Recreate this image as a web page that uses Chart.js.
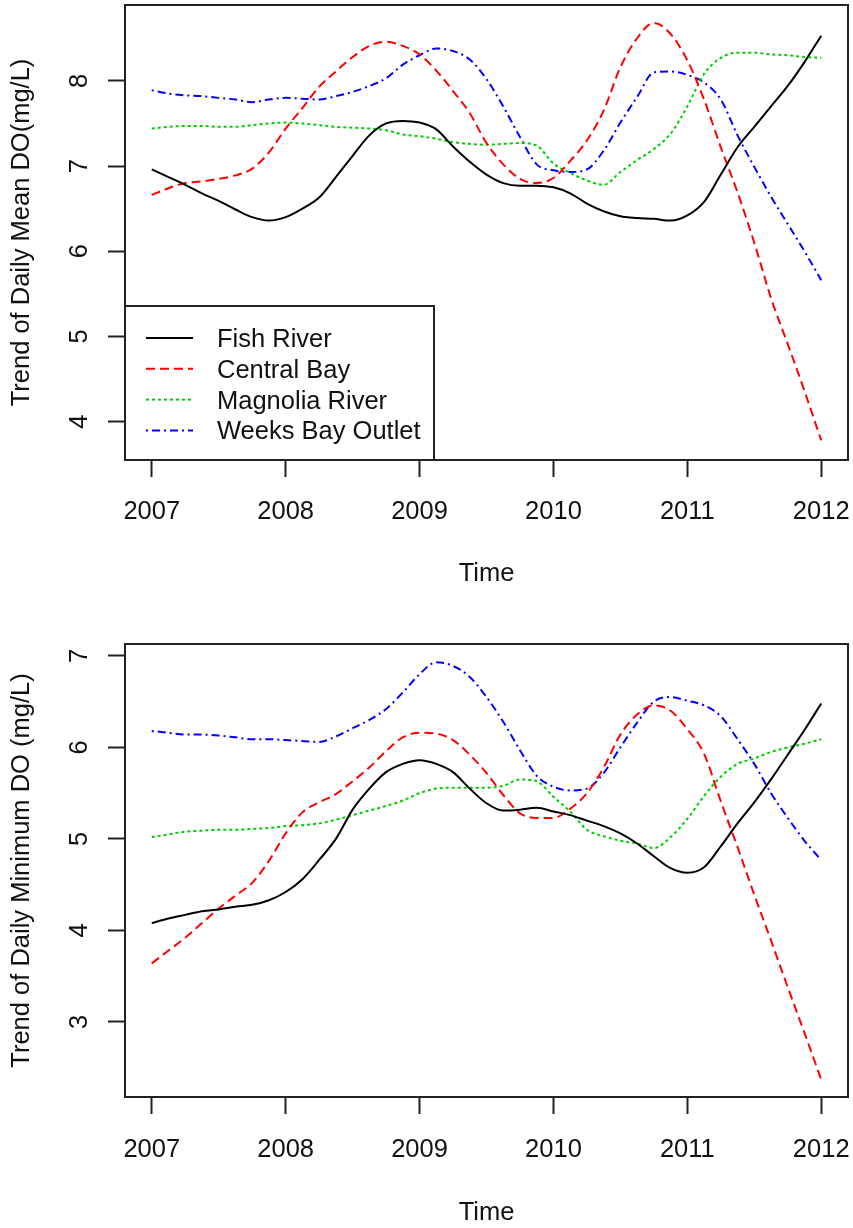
<!DOCTYPE html>
<html>
<head>
<meta charset="utf-8">
<script src="https://cdn.jsdelivr.net/npm/chart.js@4.4.1/dist/chart.umd.min.js"></script>
<style>
  body { margin: 0; background: #fff; }
  canvas { display: block; }
</style>
</head>
<body>
<canvas id="meanChart" width="853" height="614"></canvas>
<canvas id="minChart" width="853" height="614"></canvas>
<script>
// time in years, one point every 1.5 months
const times = [2007, 2007.125, 2007.25, 2007.375, 2007.5, 2007.625, 2007.75, 2007.875,
  2008, 2008.125, 2008.25, 2008.375, 2008.5, 2008.625, 2008.75, 2008.875,
  2009, 2009.125, 2009.25, 2009.375, 2009.5, 2009.625, 2009.75, 2009.875,
  2010, 2010.125, 2010.25, 2010.375, 2010.5, 2010.625, 2010.75, 2010.875,
  2011, 2011.125, 2011.25, 2011.375, 2011.5, 2011.625, 2011.75, 2011.875, 2012];

const xTicks = [2007, 2008, 2009, 2010, 2011, 2012];
const meanTicks = [4, 5, 6, 7, 8];
const minTicks = [3, 4, 5, 6, 7];

const siteNames = ["Fish River", "Central Bay", "Magnolia River", "Weeks Bay Outlet"];

// trend of daily mean DO (mg/L)
const meanFish = [6.96, 6.87, 6.78, 6.68, 6.59, 6.49, 6.40, 6.36, 6.40, 6.50, 6.63, 6.87, 7.12, 7.36, 7.50, 7.53,
  7.51, 7.43, 7.23, 7.05, 6.90, 6.80, 6.77, 6.77, 6.75, 6.68, 6.56, 6.47, 6.41, 6.39, 6.38, 6.36,
  6.42, 6.58, 6.90, 7.22, 7.46, 7.70, 7.94, 8.22, 8.53];
const meanCentral = [6.66, 6.74, 6.80, 6.82, 6.85, 6.89, 6.97, 7.16, 7.44, 7.68, 7.93, 8.11, 8.28, 8.41, 8.46, 8.41,
  8.31, 8.12, 7.88, 7.62, 7.27, 7.02, 6.85, 6.80, 6.86, 7.06, 7.30, 7.65, 8.16, 8.50, 8.68, 8.55,
  8.24, 7.78, 7.22, 6.69, 6.10, 5.45, 4.91, 4.36, 3.78];
const meanMagnolia = [7.44, 7.46, 7.47, 7.47, 7.46, 7.46, 7.48, 7.50, 7.51, 7.50, 7.48, 7.46, 7.45, 7.44, 7.42, 7.37,
  7.35, 7.32, 7.28, 7.26, 7.25, 7.26, 7.27, 7.24, 7.03, 6.92, 6.83, 6.78, 6.93, 7.07, 7.20, 7.38,
  7.70, 8.08, 8.27, 8.33, 8.33, 8.31, 8.30, 8.28, 8.27];
const meanWeeks = [7.89, 7.85, 7.83, 7.82, 7.80, 7.78, 7.75, 7.78, 7.80, 7.79, 7.78, 7.82, 7.87, 7.94, 8.03, 8.19,
  8.30, 8.38, 8.35, 8.25, 8.02, 7.70, 7.34, 7.02, 6.95, 6.93, 6.96, 7.18, 7.51, 7.81, 8.10, 8.11,
  8.07, 7.98, 7.78, 7.36, 6.99, 6.64, 6.32, 6.00, 5.66];

// trend of daily minimum DO (mg/L)
const minFish = [4.08, 4.13, 4.17, 4.21, 4.23, 4.26, 4.28, 4.33, 4.42, 4.56, 4.77, 5.00, 5.32, 5.55, 5.73, 5.82,
  5.86, 5.82, 5.73, 5.55, 5.39, 5.31, 5.32, 5.34, 5.30, 5.26, 5.20, 5.14, 5.06, 4.95, 4.81, 4.68,
  4.63, 4.69, 4.92, 5.17, 5.40, 5.65, 5.92, 6.19, 6.48];
const minCentral = [3.64, 3.78, 3.92, 4.08, 4.24, 4.38, 4.52, 4.76, 5.06, 5.29, 5.40, 5.49, 5.63, 5.78, 5.96, 6.11,
  6.16, 6.15, 6.08, 5.92, 5.72, 5.48, 5.28, 5.23, 5.23, 5.33, 5.50, 5.78, 6.14, 6.36, 6.46, 6.40,
  6.20, 5.93, 5.41, 4.91, 4.39, 3.89, 3.38, 2.88, 2.37];
const minMagnolia = [5.02, 5.05, 5.08, 5.09, 5.10, 5.10, 5.11, 5.12, 5.14, 5.15, 5.17, 5.21, 5.26, 5.31, 5.36, 5.42,
  5.50, 5.55, 5.56, 5.56, 5.56, 5.58, 5.65, 5.63, 5.46, 5.30, 5.10, 5.03, 4.98, 4.95, 4.90, 5.02,
  5.22, 5.47, 5.68, 5.82, 5.88, 5.95, 6.00, 6.04, 6.09];
const minWeeks = [6.18, 6.16, 6.14, 6.14, 6.13, 6.11, 6.09, 6.09, 6.08, 6.07, 6.06, 6.12, 6.21, 6.30, 6.42, 6.60,
  6.80, 6.93, 6.89, 6.77, 6.55, 6.28, 5.97, 5.69, 5.57, 5.53, 5.55, 5.72, 6.00, 6.27, 6.50, 6.55,
  6.51, 6.46, 6.34, 6.09, 5.82, 5.50, 5.23, 4.98, 4.77];

// R style: black solid, red dashed, green3 dotted, blue dot-dash
const lineColors = ["#000000", "#FF0000", "#00CD00", "#0000FF"];
const lineDashes = [[], [9, 5], [3, 3], [2, 4, 8, 4]];

const fontFamily = "'Liberation Sans', Arial, sans-serif";
const fontSize = 25.5;
const inkColor = "#111";

Chart.defaults.font.family = fontFamily;
Chart.defaults.font.size = fontSize;
Chart.defaults.color = inkColor;

// box round the plot region
const frame = {
  id: "frame",
  afterDraw(chart) {
    const { ctx, chartArea: a } = chart;
    ctx.save();
    ctx.strokeStyle = "#222";
    ctx.lineWidth = 2;
    ctx.strokeRect(a.left, a.top, a.right - a.left, a.bottom - a.top);
    ctx.restore();
  },
};

// legend in the bottom left corner, like R's legend("bottomleft", ...)
const cornerLegend = {
  id: "cornerLegend",
  afterDraw(chart, args, opts) {
    if (!opts.show) return;
    const { ctx, chartArea: a } = chart;
    const top = opts.top;
    ctx.save();
    ctx.fillStyle = "#fff";
    ctx.fillRect(a.left, top, opts.width, a.bottom - top);
    ctx.strokeStyle = "#222";
    ctx.lineWidth = 2;
    ctx.strokeRect(a.left, top, opts.width, a.bottom - top);
    ctx.font = fontSize + "px " + fontFamily;
    ctx.textBaseline = "middle";
    chart.data.datasets.forEach((ds, i) => {
      const y = top + 32 + i * 30.8;
      ctx.strokeStyle = ds.borderColor;
      ctx.lineWidth = ds.borderWidth;
      ctx.setLineDash(ds.borderDash);
      ctx.beginPath();
      ctx.moveTo(a.left + 21, y);
      ctx.lineTo(a.left + 68, y);
      ctx.stroke();
      ctx.setLineDash([]);
      ctx.fillStyle = inkColor;
      ctx.fillText(ds.label, a.left + 92, y + 2);
    });
    ctx.restore();
  },
};

const makeChart = function (id, series, cfg) {
  const datasets = series.map((vals, i) => ({
    label: siteNames[i],
    data: times.map((t, k) => ({ x: t, y: vals[k] })),
    borderColor: lineColors[i],
    borderDash: lineDashes[i],
    borderWidth: 2,
    pointRadius: 0,
    cubicInterpolationMode: "monotone",
    fill: false,
  }));

  return new Chart(document.getElementById(id), {
    type: "line",
    data: { datasets },
    plugins: [frame, cornerLegend],
    options: {
      responsive: false,
      animation: false,
      layout: { padding: { top: cfg.top, right: 5, left: 0, bottom: 0 } },
      plugins: {
        legend: { display: false },
        tooltip: { enabled: false },
        cornerLegend: cfg.legend,
      },
      scales: {
        x: {
          type: "linear",
          min: 2006.8,
          max: 2012.2,
          afterBuildTicks: (s) => { s.ticks = xTicks.map((v) => ({ value: v })); },
          afterFit: (s) => { s.height = cfg.xHeight; s.paddingLeft = 0; s.paddingRight = 0; },
          grid: { drawOnChartArea: false, drawTicks: true, tickLength: 17, tickWidth: 2, tickColor: "#222" },
          border: { display: false },
          ticks: { padding: cfg.xTickPad, maxRotation: 0, callback: (v) => String(v) },
          title: { display: true, text: "Time", padding: { top: 0, bottom: cfg.xTitlePad } },
        },
        y: {
          min: cfg.yMin,
          max: cfg.yMax,
          afterBuildTicks: (s) => { s.ticks = cfg.yTicks.map((v) => ({ value: v })); },
          afterFit: (s) => { s.width = 125; s.paddingTop = 0; s.paddingBottom = 0; },
          grid: { drawOnChartArea: false, drawTicks: true, tickLength: 17, tickWidth: 2, tickColor: "#222" },
          border: { display: false },
          ticks: { padding: 21, minRotation: 90, maxRotation: 90, crossAlign: "center", callback: (v) => String(v) },
          title: { display: true, text: cfg.yTitle, padding: { top: 7, bottom: 0 } },
        },
      },
    },
  });
};

makeChart("meanChart", [meanFish, meanCentral, meanMagnolia, meanWeeks], {
  top: 5, xHeight: 154, xTickPad: 20, xTitlePad: 25,
  yMin: 3.55, yMax: 8.89, yTicks: meanTicks,
  yTitle: "Trend of Daily Mean DO(mg/L)",
  legend: { show: true, top: 306, width: 309 },
});

makeChart("minChart", [minFish, minCentral, minMagnolia, minWeeks], {
  top: 30, xHeight: 131, xTickPad: 21, xTitlePad: 0,
  yMin: 2.18, yMax: 7.13, yTicks: minTicks,
  yTitle: "Trend of Daily Minimum DO (mg/L)",
  legend: { show: false },
});
</script>
</body>
</html>
